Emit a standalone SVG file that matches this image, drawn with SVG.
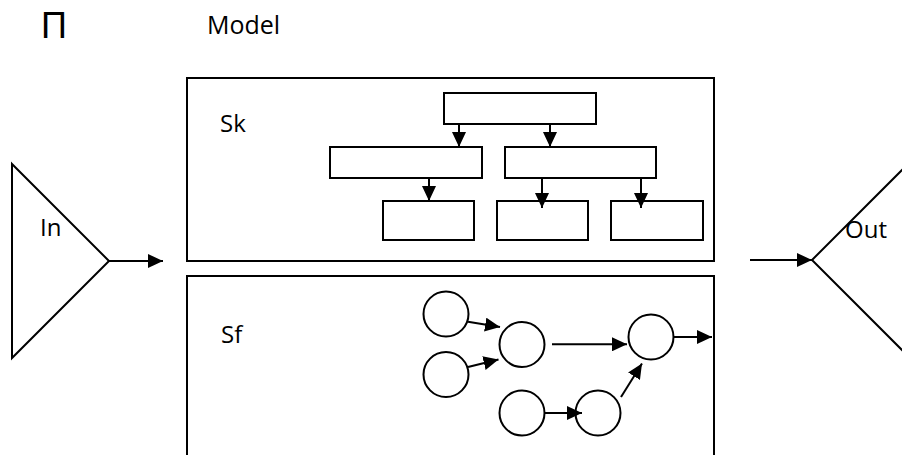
<svg xmlns="http://www.w3.org/2000/svg" width="902" height="455" viewBox="0 0 902 455">
<style>
.s{fill:none;stroke:#000;stroke-width:2}
.b{fill:#fff;stroke:#000;stroke-width:2}
.t{font-family:"Open Sans","Noto Sans",sans-serif;font-size:24px;fill:#000}
.c{fill:none;stroke:#000;stroke-width:2;marker-end:url(#ah)}
</style>
<defs>
<marker id="ah" markerUnits="userSpaceOnUse" markerWidth="16" markerHeight="14" refX="15" refY="7" orient="auto" viewBox="0 0 16 14">
<path d="M0,0 L15,7 L0,14 Z" fill="#000"/>
</marker>
</defs>
<rect width="902" height="455" fill="#fff"/>
<g id="title">
<text x="41" y="38" style="font-family:'Liberation Sans','DejaVu Sans',sans-serif;font-size:36px;fill:#000">П</text>
<text x="207" y="34" class="t" style="font-size:25px">Model</text>
</g>
<g id="in">
<polygon class="s" points="12,164 109,261 12,358"/>
<text x="40" y="236" class="t">In</text>
</g>
<g id="out">
<polyline class="s" points="912,160 812,260 912,360"/>
<text x="845" y="238" class="t">Out</text>
</g>
<g id="sk">
<rect class="s" x="187" y="78" width="527" height="183"/>
<text x="220" y="132" class="t">Sk</text>
</g>
<g id="sk-top"><rect class="b" x="444" y="93" width="152" height="31"/></g>
<g id="sk-l"><rect class="b" x="330" y="147" width="152" height="31"/></g>
<g id="sk-r"><rect class="b" x="505" y="147" width="151" height="31"/></g>
<g id="sk-1"><rect class="b" x="383" y="201" width="91" height="39"/></g>
<g id="sk-2"><rect class="b" x="497" y="201" width="91" height="39"/></g>
<g id="sk-3"><rect class="b" x="611" y="201" width="92" height="39"/></g>
<g id="sf">
<rect class="s" x="187" y="276" width="527" height="200"/>
<text x="221" y="343" class="t">Sf</text>
</g>
<g id="c1"><circle class="b" cx="446" cy="314" r="22.5"/></g>
<g id="c2"><circle class="b" cx="446" cy="374.5" r="22.5"/></g>
<g id="c3"><circle class="b" cx="522" cy="344.5" r="22.5"/></g>
<g id="c4"><circle class="b" cx="522" cy="413" r="22.5"/></g>
<g id="c5"><circle class="b" cx="598" cy="413" r="22.5"/></g>
<g id="c6"><circle class="b" cx="651" cy="337" r="22.5"/></g>
<g id="connectors">
<line class="c" x1="109" y1="261" x2="163" y2="261"/>
<line class="c" x1="750" y1="260" x2="812" y2="260"/>
<line class="c" x1="459" y1="124" x2="459" y2="147"/>
<line class="c" x1="550" y1="124" x2="550" y2="147"/>
<line class="c" x1="429" y1="178" x2="429" y2="201"/>
<line class="c" x1="542" y1="178" x2="542" y2="208"/>
<line class="c" x1="641" y1="178" x2="641" y2="208"/>
<line class="c" x1="468" y1="321.7" x2="500" y2="327"/>
<line class="c" x1="468" y1="367" x2="498.5" y2="359.5"/>
<line class="c" x1="552" y1="344.3" x2="627" y2="344.3"/>
<line class="c" x1="545" y1="413" x2="582" y2="413"/>
<line class="c" x1="621" y1="397" x2="642" y2="363.5"/>
<line class="c" x1="674" y1="337" x2="712" y2="337"/>
</g>
</svg>
